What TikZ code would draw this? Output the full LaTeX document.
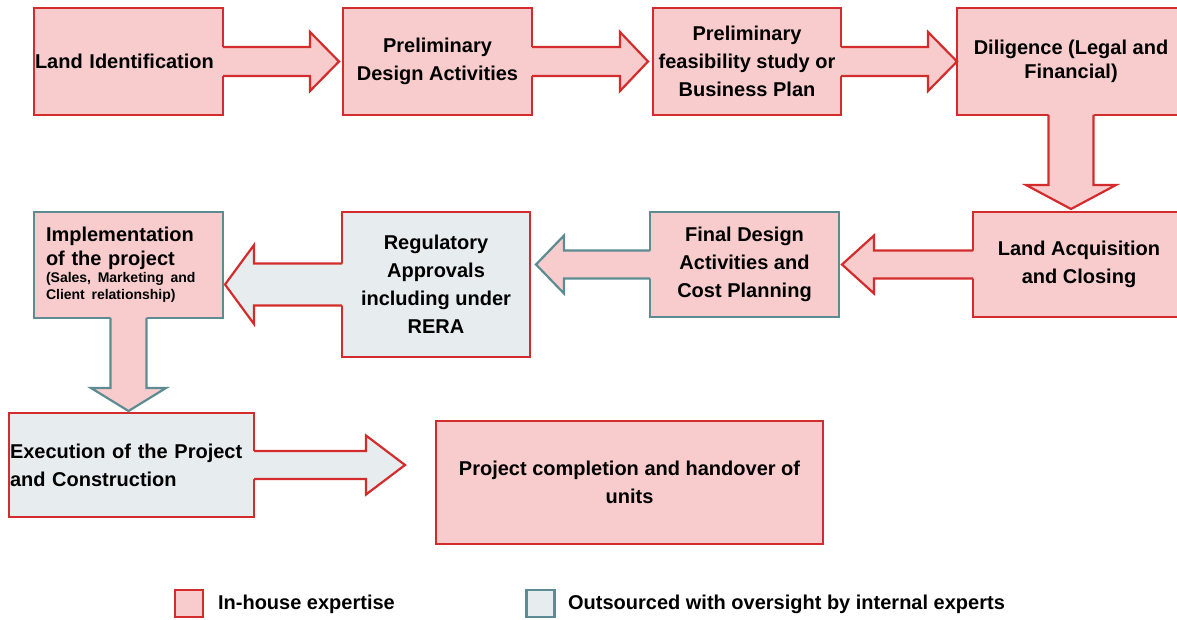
\documentclass[tikz,border=0pt]{standalone}
\usepackage{fontspec}
\setmainfont{Liberation Sans}
\usepackage{tikz}
\definecolor{InFill}  {RGB}{248,204,204}
\definecolor{InLine}  {RGB}{212,44,44}
\definecolor{OutFill} {RGB}{231,237,239}
\definecolor{OutLine} {RGB}{92,140,146}
\tikzset{
  nd_box/.style={rectangle,outer sep=0pt,inner sep=0pt,align=center,font=\bfseries\fontsize{20}{28}\selectfont},
  nd_leg/.style={rectangle,outer sep=0pt,inner sep=0pt,minimum width=28pt,minimum height=27pt},
  nd_txt/.style={anchor=west,inner sep=0pt,font=\bfseries\fontsize{20}{24}\selectfont},
  c_pr/.style={fill=InFill,draw=InLine},
  c_pt/.style={fill=InFill,draw=OutLine},
  c_gr/.style={fill=OutFill,draw=InLine},
  c_gt/.style={fill=OutFill,draw=OutLine},
}
% block arrow growing out of a box side: anchor, angle, shaft, head, half shaft, half head, colours
\newcommand{\callarr}[7]{%
  \begin{scope}[shift={(#1)},rotate=#2]
    \fill[#7,draw=none](-2,-#5)--(#3,-#5)--(#3,-#6)--({#3+#4},0)--(#3,#6)--(#3,#5)--(-2,#5)--cycle;
    \draw[#7,fill=none](0,-#5)--(#3,-#5)--(#3,-#6)--({#3+#4},0)--(#3,#6)--(#3,#5)--(0,#5);
  \end{scope}}

\begin{document}
\begin{tikzpicture}[x=1pt,y=-1pt,line width=2.2pt]
\useasboundingbox (0,0) rectangle (1177,619);
\clip (0,0) rectangle (1177,619);

% top row
\node[nd_box,c_pr,minimum width=189pt,minimum height=107pt,text width=187pt,align=left] (LI) at (128.5,61.5) {Land Identification};
\node[nd_box,c_pr,minimum width=189pt,minimum height=107pt] (PD) at (437.5,61.5) {Preliminary\\Design Activities};
\node[nd_box,c_pr,minimum width=188pt,minimum height=107pt] (PF) at (747,61.5) {Preliminary\\feasibility study or\\Business Plan};
\node[nd_box,c_pr,minimum width=228pt,minimum height=107pt,font=\bfseries\fontsize{20}{24}\selectfont] (DL) at (1071,61.5) {Diligence (Legal and\\Financial)};

% middle row
\node[nd_box,c_pr,minimum width=212pt,minimum height=105pt] (LA) at (1079,264.5) {Land Acquisition\\and Closing};
\node[nd_box,c_pt,minimum width=189pt,minimum height=105pt] (FD) at (744.5,264.5) {Final Design\\Activities and\\Cost Planning};
\node[nd_box,c_gr,minimum width=188pt,minimum height=145pt] (RG) at (436,284.5) {Regulatory\\Approvals\\including under\\RERA};
\node[nd_box,c_pt,minimum width=189pt,minimum height=106pt,text width=165pt,align=left,font=\bfseries\fontsize{20}{24}\selectfont] (IM) at (128.5,265)
  {Implementation\\of the project\par{\fontsize{14}{17}\selectfont (Sales, Marketing and\\Client relationship)\par}};

% bottom row
\node[nd_box,c_gr,minimum width=245pt,minimum height=104pt,text width=243pt,align=left] (EX) at (131.5,465) {Execution of the Project\\and Construction};
\node[nd_box,c_pr,minimum width=387pt,minimum height=123pt] (PC) at (629.5,482.5) {Project completion and handover of\\units};

% block arrows
\callarr{LI.east}{0}{87}{29}{14.5}{29.5}{c_pr}
\callarr{PD.east}{0}{88}{28}{14.5}{29.5}{c_pr}
\callarr{PF.east}{0}{87}{29}{14.5}{29.5}{c_pr}
\callarr{DL.south}{-90}{70}{24}{22.5}{45}{c_pr}
\callarr{LA.west}{180}{99}{32}{14}{29}{c_pr}
\callarr{FD.west}{180}{86}{28}{14}{29}{c_pt}
\callarr{RG.west}{180}{88}{29}{21}{39.5}{c_gr}
\callarr{IM.south}{-90}{70}{23}{18}{37.5}{c_pt}
\callarr{EX.east}{0}{112}{39}{14}{29.5}{c_gr}

% legend
\node[nd_leg,c_pr] (K1) at (189,603.5) {};
\node[nd_txt] (K1t) at (217,604) {In-house expertise};
\node[nd_leg,c_gt] (K2) at (540.5,603.5) {};
\node[nd_txt] (K2t) at (567,604) {Outsourced with oversight by internal experts};

\end{tikzpicture}
\end{document}
